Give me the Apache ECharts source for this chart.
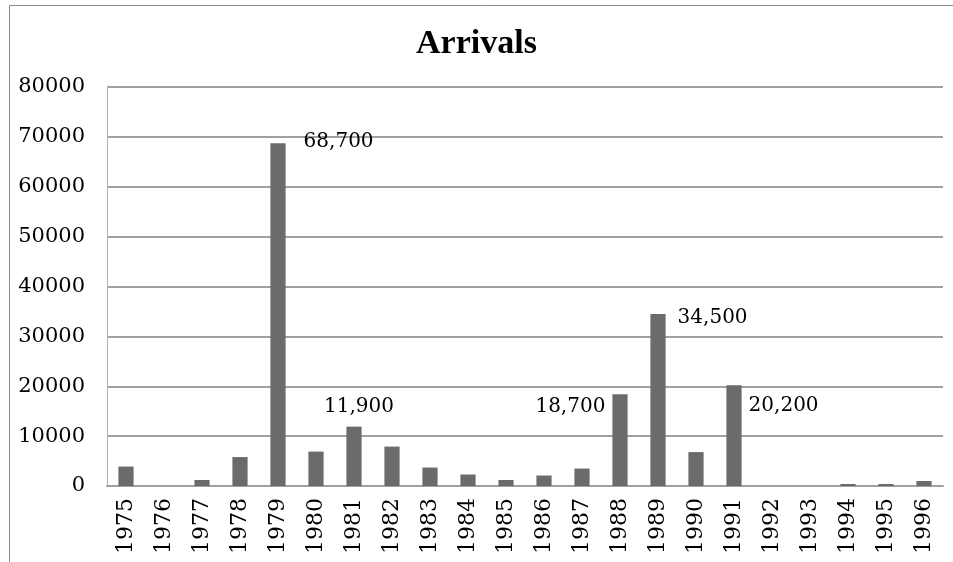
<!DOCTYPE html>
<html>
<head>
<meta charset="utf-8">
<script src="https://cdn.jsdelivr.net/npm/echarts@6/dist/echarts.min.js"></script>
<style>
  html, body { margin: 0; padding: 0; background: #fff; }
  #chart { width: 953px; height: 562px; }
</style>
</head>
<body>
<div id="chart"></div>
<script>
// years on the x axis
var years = ['1975','1976','1977','1978','1979','1980','1981','1982','1983','1984','1985',
             '1986','1987','1988','1989','1990','1991','1992','1993','1994','1995','1996'];
// arrivals per year
var arrivals = [3900, 0, 1200, 5800, 68700, 6900, 11900, 7900, 3700, 2300, 1200,
                2100, 3500, 18400, 34500, 6800, 20200, 0, 0, 400, 400, 1000];
// annotated bars and their label text
var labelYears = ['1979', '1981', '1988', '1989', '1991'];
var labelTexts = ['68,700', '11,900', '18,700', '34,500', '20,200'];
var yTicks = [0, 10000, 20000, 30000, 40000, 50000, 60000, 70000, 80000];

var serif = 'DejaVu Serif';

// where each label sits relative to its bar (the original had them moved by hand)
var labelPlace = {
  '1979': { position: ['100%', 0], align: 'left', verticalAlign: 'middle', offset: [18, -2] },
  '1981': { position: 'top', distance: 10, offset: [5, 0] },
  '1988': { position: [0, 0], align: 'right', verticalAlign: 'middle', offset: [-7, 13] },
  '1989': { position: ['100%', 0], align: 'left', verticalAlign: 'middle', offset: [12, 4] },
  '1991': { position: ['100%', 0], align: 'left', verticalAlign: 'middle', offset: [7, 21] }
};

var barData = arrivals.map(function (v, i) {
  var item = { value: v };
  var k = labelYears.indexOf(years[i]);
  if (k >= 0) {
    var p = labelPlace[years[i]];
    item.label = Object.assign({
      show: true,
      formatter: labelTexts[k],
      fontFamily: serif,
      fontSize: 20,
      color: '#000'
    }, p);
  }
  return item;
});

var chart = echarts.init(document.getElementById('chart'));
chart.setOption({
  animation: false,
  backgroundColor: '#fff',
  title: {
    text: 'Arrivals',
    left: 'center',
    top: 22,
    textStyle: { fontFamily: 'Liberation Serif', fontWeight: 'bold', fontSize: 34, color: '#000' }
  },
  graphic: [{
    type: 'rect',
    shape: { x: 9.5, y: 5.5, width: 1000, height: 600 },
    style: { fill: 'none', stroke: '#8c8c8c', lineWidth: 1 },
    silent: true
  }],
  grid: { left: 107, right: 10, top: 87, bottom: 76 },
  xAxis: {
    type: 'category',
    data: years,
    axisLine: { show: true, lineStyle: { color: '#a0a0a0', width: 2 } },
    axisTick: { show: false },
    axisLabel: {
      rotate: 90,
      margin: 12,
      interval: 0,
      fontFamily: serif,
      fontSize: 22,
      color: '#000'
    }
  },
  yAxis: {
    type: 'value',
    min: yTicks[0],
    max: yTicks[yTicks.length - 1],
    interval: 10000,
    axisLine: { show: true, lineStyle: { color: '#b0b0b0', width: 1 } },
    axisTick: { show: false },
    splitLine: { show: true, lineStyle: { color: '#a0a0a0', width: 2 } },
    axisLabel: {
      margin: 22,
      fontFamily: serif,
      fontSize: 21,
      color: '#000',
      formatter: function (v) { return String(v); }
    }
  },
  series: [{
    type: 'bar',
    data: barData,
    barWidth: '40%',
    itemStyle: { color: '#6b6b6b' }
  }]
});
</script>
</body>
</html>
